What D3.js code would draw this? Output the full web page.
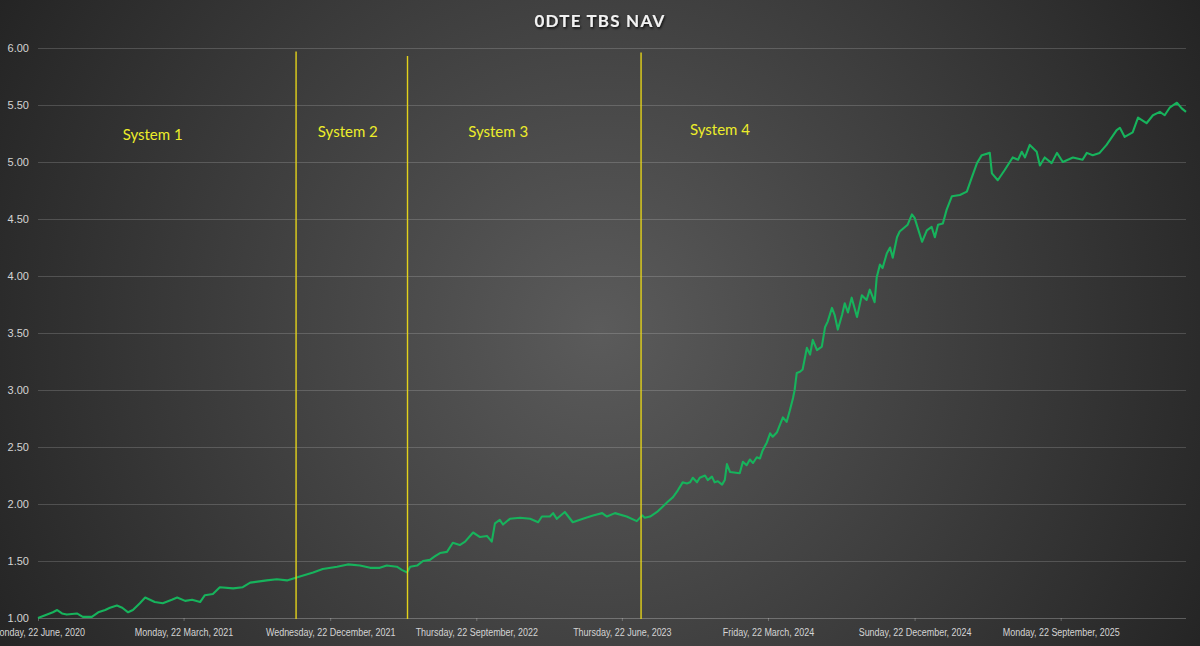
<!DOCTYPE html>
<html>
<head>
<meta charset="utf-8">
<script src="https://cdn.jsdelivr.net/npm/d3@7"></script>
<style>
  html, body { margin: 0; padding: 0; background: #262626; }
  svg { display: block; }
</style>
</head>
<body>
<div id="chart"></div>
<script>
// NAV series (date, value)
const navDates = [
  "2020-06-22","2020-07-20","2020-07-28","2020-08-06","2020-08-15","2020-09-03","2020-09-14","2020-10-01",
  "2020-10-13","2020-10-26","2020-11-04","2020-11-17","2020-11-27","2020-12-08","2020-12-17","2020-12-30",
  "2021-01-09","2021-01-27","2021-02-11","2021-02-28","2021-03-10","2021-03-25","2021-04-07","2021-04-22",
  "2021-05-01","2021-05-16","2021-05-29","2021-06-23","2021-07-11","2021-07-25","2021-08-25","2021-09-13",
  "2021-10-02","2021-10-23","2021-11-20","2021-12-08","2022-01-04","2022-01-24","2022-02-16","2022-03-07",
  "2022-03-25","2022-04-07","2022-04-26","2022-05-06","2022-05-15","2022-05-21","2022-06-03","2022-06-14",
  "2022-06-27","2022-07-06","2022-07-16","2022-07-29","2022-08-09","2022-08-22","2022-09-01","2022-09-16",
  "2022-09-29","2022-10-12","2022-10-21","2022-10-27","2022-11-05","2022-11-11","2022-11-24","2022-12-13",
  "2023-01-01","2023-01-16","2023-01-23","2023-02-07","2023-02-13","2023-02-20","2023-03-07","2023-03-22",
  "2023-04-10","2023-04-29","2023-05-16","2023-05-25","2023-06-09","2023-07-01","2023-07-20","2023-07-30",
  "2023-08-04","2023-08-14","2023-08-27","2023-09-05","2023-09-16","2023-09-26","2023-10-05","2023-10-14",
  "2023-10-22","2023-10-28","2023-11-02","2023-11-10","2023-11-15","2023-11-25","2023-11-30","2023-12-08",
  "2023-12-13","2023-12-19","2023-12-27","2024-01-01","2024-01-05","2024-01-11","2024-01-29","2024-02-04",
  "2024-02-11","2024-02-17","2024-02-23","2024-03-01","2024-03-07","2024-03-12","2024-03-20","2024-03-26",
  "2024-03-31","2024-04-08","2024-04-13","2024-04-19","2024-04-26","2024-05-02","2024-05-08","2024-05-11",
  "2024-05-15","2024-05-21","2024-05-26","2024-06-03","2024-06-09","2024-06-14","2024-06-22","2024-07-01",
  "2024-07-07","2024-07-12","2024-07-20","2024-07-25","2024-07-31","2024-08-08","2024-08-13","2024-08-19",
  "2024-08-26","2024-09-05","2024-09-14","2024-09-23","2024-09-29","2024-10-08","2024-10-12","2024-10-18",
  "2024-10-23","2024-10-31","2024-11-06","2024-11-11","2024-11-19","2024-11-24","2024-12-04","2024-12-09",
  "2024-12-17","2024-12-22","2024-12-28","2025-01-05","2025-01-14","2025-01-23","2025-01-29","2025-02-04",
  "2025-02-13","2025-02-20","2025-03-02","2025-03-17","2025-03-30","2025-04-08","2025-04-18","2025-04-27",
  "2025-05-12","2025-05-16","2025-05-27","2025-06-09","2025-06-24","2025-07-04","2025-07-11","2025-07-17",
  "2025-07-26","2025-08-08","2025-08-14","2025-08-23","2025-09-05","2025-09-15","2025-09-26","2025-10-15",
  "2025-11-02","2025-11-10","2025-11-21","2025-12-04","2025-12-17","2026-01-05","2026-01-11","2026-01-20",
  "2026-02-04","2026-02-14","2026-03-02","2026-03-14","2026-03-27","2026-04-05","2026-04-15","2026-04-28",
  "2026-05-07","2026-05-15"
];
const navValues = [
  1.00,1.05,1.07,1.04,1.03,1.04,1.01,1.01,
  1.05,1.07,1.09,1.11,1.09,1.05,1.07,1.13,
  1.18,1.14,1.13,1.16,1.18,1.15,1.16,1.14,
  1.20,1.21,1.27,1.26,1.27,1.31,1.33,1.34,
  1.33,1.36,1.40,1.43,1.45,1.47,1.46,1.44,
  1.44,1.46,1.45,1.42,1.40,1.45,1.46,1.50,
  1.51,1.54,1.57,1.58,1.66,1.64,1.67,1.75,
  1.71,1.72,1.67,1.83,1.86,1.82,1.87,1.88,
  1.87,1.84,1.89,1.89,1.92,1.87,1.93,1.84,
  1.87,1.90,1.92,1.89,1.92,1.89,1.85,1.90,
  1.88,1.89,1.93,1.97,2.02,2.06,2.12,2.19,
  2.18,2.19,2.23,2.19,2.23,2.25,2.21,2.24,
  2.19,2.20,2.17,2.21,2.35,2.28,2.27,2.37,
  2.34,2.39,2.36,2.41,2.40,2.47,2.54,2.62,
  2.59,2.63,2.69,2.76,2.72,2.82,2.93,3.00,
  3.15,3.16,3.18,3.37,3.31,3.44,3.35,3.38,
  3.55,3.60,3.72,3.66,3.53,3.66,3.76,3.68,
  3.81,3.64,3.83,3.79,3.88,3.77,3.99,4.10,
  4.07,4.20,4.25,4.16,4.34,4.39,4.43,4.45,
  4.54,4.51,4.42,4.30,4.40,4.43,4.34,4.45,
  4.46,4.58,4.70,4.71,4.74,4.86,4.99,5.06,
  5.08,4.90,4.84,4.93,5.04,5.02,5.09,5.04,
  5.15,5.09,4.97,5.04,4.99,5.08,5.00,5.04,
  5.02,5.08,5.06,5.08,5.15,5.28,5.30,5.22,
  5.26,5.39,5.34,5.41,5.44,5.41,5.48,5.52,
  5.47,5.44
];

// system change markers and labels
const systemNames = ["System 1", "System 2", "System 3", "System 4"];
const systemLabelDates = ["2021-01-23", "2022-01-24", "2022-11-02", "2023-12-23"];
const systemLabelValues = [5.23, 5.25, 5.25, 5.27];
const switchDates = ["2021-10-19", "2022-05-16", "2023-07-28"];
const switchTops = [5.97, 5.93, 5.96];

// axes
const xStart = "2020-06-22", xEnd = "2026-05-15";
const xTickDates = ["2020-06-22","2021-03-22","2021-12-22","2022-09-22","2023-06-22","2024-03-22","2024-12-22","2025-09-22"];
const yTicks = [1.0, 1.5, 2.0, 2.5, 3.0, 3.5, 4.0, 4.5, 5.0, 5.5, 6.0];

const W = 1200, H = 646;
const margin = {top: 48, right: 14, bottom: 28, left: 38};
const parse = d3.timeParse("%Y-%m-%d");
const fmtDate = d3.timeFormat("%A, %-d %B, %Y");

const data = navDates.map((d, i) => ({date: parse(d), value: navValues[i]}));

const x = d3.scaleTime()
    .domain([parse(xStart), parse(xEnd)])
    .range([margin.left, W - margin.right]);
const y = d3.scaleLinear()
    .domain([1, 6])
    .range([H - margin.bottom, margin.top]);

const svg = d3.select("#chart").append("svg")
    .attr("width", W)
    .attr("height", H)
    .style("font-family", "Lato, 'Liberation Sans', sans-serif");

// background gradient (lighter in the middle)
let defs = svg.append("defs");
let grad = defs.append("radialGradient")
    .attr("id", "bg")
    .attr("gradientUnits", "userSpaceOnUse")
    .attr("cx", 600).attr("cy", 330).attr("r", 700);
grad.append("stop").attr("offset", "0%").attr("stop-color", "#5b5b5b");
grad.append("stop").attr("offset", "100%").attr("stop-color", "#232323");

let shadow = defs.append("filter").attr("id", "shadow")
    .attr("x", "-10%").attr("y", "-30%").attr("width", "120%").attr("height", "160%");
shadow.append("feDropShadow")
    .attr("dx", 1).attr("dy", 1.5).attr("stdDeviation", 1)
    .attr("flood-color", "#000").attr("flood-opacity", 0.8);

svg.append("rect")
    .attr("width", W).attr("height", H)
    .attr("fill", "url(#bg)");

// gridlines + y labels
let yAxis = svg.append("g")
    .attr("transform", `translate(${margin.left},0)`)
    .call(d3.axisLeft(y).tickValues(yTicks).tickFormat(d3.format(".2f"))
        .tickSize(-(W - margin.left - margin.right)).tickPadding(9));
yAxis.select(".domain").remove();
yAxis.selectAll(".tick line")
    .attr("stroke", "#ffffff").attr("stroke-opacity", d => d === 1 ? 0.25 : 0.17);
yAxis.selectAll(".tick text")
    .attr("fill", "#d4d4d4")
    .style("font-size", "11px");

// x axis -- Calibri-like narrow labels: squeeze Lato horizontally around the tick
let xAxis = svg.append("g")
    .attr("transform", `translate(0,${H - margin.bottom})`)
    .call(d3.axisBottom(x).tickValues(xTickDates.map(parse)).tickFormat(fmtDate)
        .tickSize(3).tickPadding(7));
xAxis.select(".domain").remove();
xAxis.selectAll(".tick line").attr("stroke", "#ffffff").attr("stroke-opacity", 0.25);
xAxis.selectAll(".tick text")
    .attr("fill", "#d4d4d4")
    .attr("transform", "scale(0.78,1)")
    .style("font-size", "11.5px");

// NAV line
let line = d3.line()
    .x(d => x(d.date))
    .y(d => y(d.value));

svg.append("path")
    .datum(data)
    .attr("fill", "none")
    .attr("stroke", "#17b35c")
    .attr("stroke-width", 2.1)
    .attr("stroke-linejoin", "round")
    .attr("d", line);

// system switch lines
svg.append("g")
    .selectAll("line")
    .data(switchDates)
    .join("line")
        .attr("x1", d => x(parse(d)))
        .attr("x2", d => x(parse(d)))
        .attr("y1", (d, i) => y(switchTops[i]))
        .attr("y2", y(1) + 1)
        .attr("stroke", "#e3d21a")
        .attr("stroke-width", 1.4);

svg.append("g")
    .selectAll("text")
    .data(systemNames)
    .join("text")
        .attr("x", (d, i) => x(parse(systemLabelDates[i])))
        .attr("y", (d, i) => y(systemLabelValues[i]))
        .attr("text-anchor", "middle")
        .attr("dominant-baseline", "middle")
        .attr("fill", "#eded2a")
        .style("font-size", "15px")
        .text(d => d);

// title
svg.append("text")
    .attr("x", W / 2)
    .attr("y", 23)
    .attr("text-anchor", "middle")
    .attr("dominant-baseline", "middle")
    .attr("fill", "#f2f2f2")
    .attr("filter", "url(#shadow)")
    .style("font-size", "17px")
    .style("font-weight", "bold")
    .style("letter-spacing", "1.2px")
    .text("0DTE TBS NAV");
</script>
</body>
</html>
